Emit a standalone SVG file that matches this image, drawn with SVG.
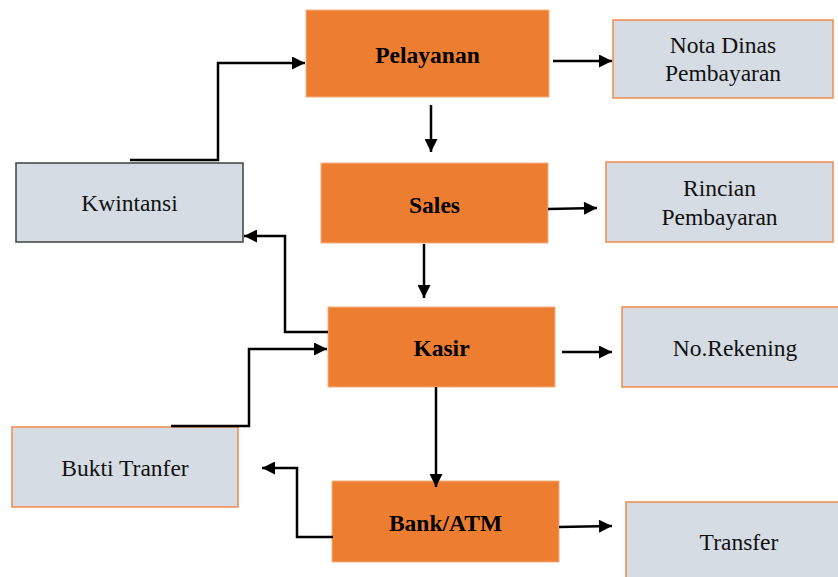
<svg xmlns="http://www.w3.org/2000/svg" width="838" height="577" viewBox="0 0 838 577">
  <style>
    .proc { fill: #ED7D31; stroke: #F4B183; stroke-width: 1; }
    .doc { fill: #D6DCE4; stroke: #F08A4B; stroke-width: 1.5; }
    .doc-dark { fill: #D6DCE4; stroke: #404040; stroke-width: 1.5; }
    text { font-family: 'Liberation Serif', 'DejaVu Serif', serif; font-size: 23.5px; text-anchor: middle; }
    .ptext { font-weight: bold; fill: #000; }
    .dtext { fill: #111; }
    .conn { fill: none; stroke: #000; stroke-width: 2.5; marker-end: url(#arrow); }
  </style>
  <defs>
    <marker id="arrow" viewBox="0 0 10 10" refX="10" refY="5" markerWidth="5.6" markerHeight="5.2" markerUnits="strokeWidth" orient="auto">
      <path d="M0,0 L10,5 L0,10 Z" fill="#000"/>
    </marker>
  </defs>

  <g id="pelayanan">
    <rect class="proc" x="306" y="10" width="243" height="87"/>
    <text class="ptext" x="427.5" y="63">Pelayanan</text>
  </g>
  <g id="nota-dinas">
    <rect class="doc" x="613" y="20" width="220" height="78"/>
    <text class="dtext" x="723" y="53">Nota Dinas</text>
    <text class="dtext" x="723" y="81">Pembayaran</text>
  </g>
  <g id="sales">
    <rect class="proc" x="321" y="163" width="227" height="80"/>
    <text class="ptext" x="434.5" y="213">Sales</text>
  </g>
  <g id="rincian">
    <rect class="doc" x="606" y="162" width="227" height="80"/>
    <text class="dtext" x="719.5" y="196">Rincian</text>
    <text class="dtext" x="719.5" y="225">Pembayaran</text>
  </g>
  <g id="kwintansi">
    <rect class="doc-dark" x="16" y="163" width="227" height="79"/>
    <text class="dtext" x="129.5" y="211">Kwintansi</text>
  </g>
  <g id="kasir">
    <rect class="proc" x="328" y="307" width="227" height="80"/>
    <text class="ptext" x="441.5" y="356">Kasir</text>
  </g>
  <g id="no-rekening">
    <rect class="doc" x="622" y="307" width="220" height="80"/>
    <text class="dtext" x="735" y="356">No.Rekening</text>
  </g>
  <g id="bukti-tranfer">
    <rect class="doc" x="12" y="427" width="226" height="80"/>
    <text class="dtext" x="125" y="476">Bukti Tranfer</text>
  </g>
  <g id="bank-atm">
    <rect class="proc" x="332" y="481" width="227" height="81"/>
    <text class="ptext" x="445.5" y="531">Bank/ATM</text>
  </g>
  <g id="transfer">
    <rect class="doc" x="626" y="502" width="220" height="85"/>
    <text class="dtext" x="739" y="550">Transfer</text>
  </g>

  <g id="connectors">
    <path class="conn" d="M553,61 L612,61"/>
    <path class="conn" d="M431,105 L431,152"/>
    <path class="conn" d="M548,209 L597,208"/>
    <path class="conn" d="M130,160 L218,160 L218,63 L305,63"/>
    <path class="conn" d="M328,332 L285,332 L285,236 L244,236"/>
    <path class="conn" d="M424,244 L424,298"/>
    <path class="conn" d="M562,352 L612,352"/>
    <path class="conn" d="M171,426 L249,426 L249,349 L327,349"/>
    <path class="conn" d="M436,387 L436,487"/>
    <path class="conn" d="M333,537 L297,537 L297,468 L262,468"/>
    <path class="conn" d="M559,527 L612,526"/>
  </g>
</svg>
